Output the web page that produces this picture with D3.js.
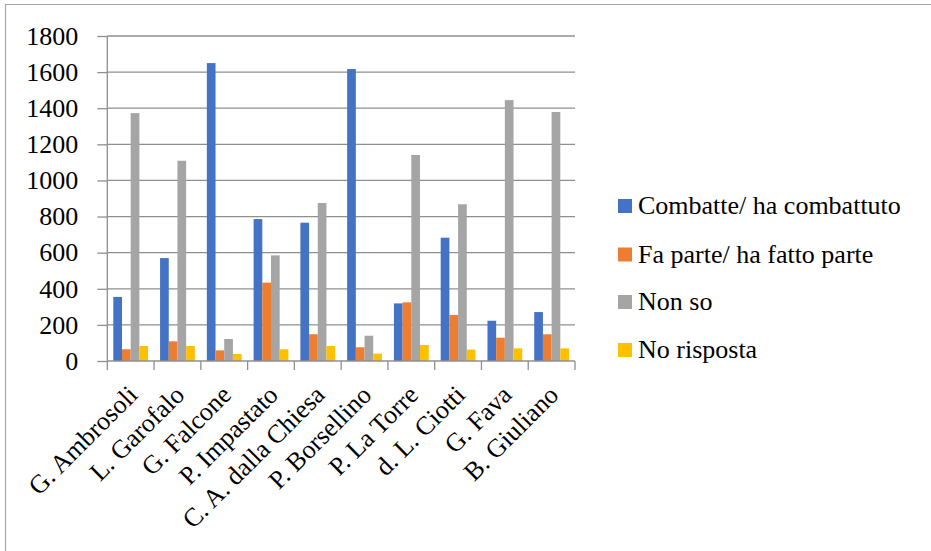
<!DOCTYPE html>
<html>
<head>
<meta charset="utf-8">
<script src="https://cdn.jsdelivr.net/npm/d3@7"></script>
<style>
  html, body { margin: 0; padding: 0; background: #fff; }
  svg { display: block; }
  svg text { font-family: "Liberation Serif", "DejaVu Serif", serif; fill: #000; }
</style>
</head>
<body>
<svg id="chart" width="931" height="551" font-family="Liberation Serif, serif"></svg>
<script>
// Categories (people) and the four answer series
const categories = ["G. Ambrosoli", "L. Garofalo", "G. Falcone", "P. Impastato", "C. A. dalla Chiesa",
  "P. Borsellino", "P. La Torre", "d. L. Ciotti", "G. Fava", "B. Giuliano"];
const seriesNames = ["Combatte/ ha combattuto", "Fa parte/ ha fatto parte", "Non so", "No risposta"];
const seriesColors = ["#4472C4", "#ED7D31", "#A5A5A5", "#FFC000"];

const combatte   = [355, 570, 1650, 786, 766, 1617, 319, 683, 223, 271];
const faParte    = [65, 109, 59, 434, 148, 76, 325, 255, 129, 148];
const nonSo      = [1373, 1109, 122, 585, 875, 140, 1141, 868, 1445, 1379];
const noRisposta = [83, 83, 39, 65, 83, 41, 89, 63, 70, 70];

const yTicks = [0, 200, 400, 600, 800, 1000, 1200, 1400, 1600, 1800];

const seriesValues = [combatte, faParte, nonSo, noRisposta];

const FONT = '"Liberation Serif", "DejaVu Serif", serif';
const FONT_SIZE = "26px";

const svg = d3.select("#chart");
const plot = { left: 107.3, right: 575, top: 36, bottom: 361 };
const gridColor = "#8f8f8f";

// outer frame (left and top edges)
svg.append("path")
  .attr("d", "M5.5,551 V4.5 H931")
  .attr("fill", "none")
  .attr("stroke", "#a6a6a6")
  .attr("stroke-width", 1.2);

const x = d3.scaleBand().domain(categories).range([plot.left, plot.right]).padding(0);
const inner = d3.scaleBand().domain(seriesNames)
  .range([6, x.bandwidth() - 6]).padding(0);
const y = d3.scaleLinear().domain([0, 1800]).range([plot.bottom, plot.top]);

// horizontal gridlines
svg.append("g").selectAll("line")
  .data(yTicks.filter(d => d > 0))
  .join("line")
  .attr("x1", plot.left).attr("x2", plot.right)
  .attr("y1", d => y(d)).attr("y2", d => y(d))
  .attr("stroke", gridColor).attr("stroke-width", 1.3);

// y axis with outward ticks
const yAxis = d3.axisLeft(y).tickValues(yTicks).tickSize(10).tickPadding(19).tickFormat(d3.format("d"));
const gy = svg.append("g").attr("transform", `translate(${plot.left},0)`).call(yAxis)
  .attr("font-family", FONT).attr("font-size", FONT_SIZE);
gy.select(".domain").remove();
gy.selectAll(".tick line").attr("stroke", gridColor).attr("stroke-width", 1.3);
gy.selectAll(".tick text").attr("fill", "#000");
svg.append("line")
  .attr("x1", plot.left).attr("x2", plot.left)
  .attr("y1", plot.top).attr("y2", plot.bottom)
  .attr("stroke", gridColor).attr("stroke-width", 1.3);

// bars
const groups = svg.append("g").selectAll("g")
  .data(categories)
  .join("g")
  .attr("transform", d => `translate(${x(d)},0)`);
groups.selectAll("rect")
  .data((c, i) => seriesNames.map((s, k) => ({ s, k, v: seriesValues[k][i] })))
  .join("rect")
  .attr("x", d => inner(d.s))
  .attr("width", inner.bandwidth())
  .attr("y", d => y(d.v))
  .attr("height", d => y(0) - y(d.v))
  .attr("fill", d => seriesColors[d.k]);

// x axis baseline and boundary ticks
svg.append("line")
  .attr("x1", plot.left).attr("x2", plot.right)
  .attr("y1", plot.bottom).attr("y2", plot.bottom)
  .attr("stroke", gridColor).attr("stroke-width", 1.3);
const bounds = categories.map(c => x(c)).concat([plot.right]);
svg.append("g").selectAll("line")
  .data(bounds)
  .join("line")
  .attr("x1", d => d).attr("x2", d => d)
  .attr("y1", plot.bottom).attr("y2", plot.bottom + 9)
  .attr("stroke", gridColor).attr("stroke-width", 1.3);

// rotated category labels
svg.append("g")
  .attr("font-family", FONT).attr("font-size", FONT_SIZE)
  .selectAll("text")
  .data(categories)
  .join("text")
  .attr("transform", d => `translate(${x(d) + x.bandwidth() / 2 + 2},${plot.bottom + 29}) rotate(-45)`)
  .attr("text-anchor", "end")
  .attr("dy", "0.35em")
  .text(d => d);

// legend
const legend = svg.append("g").attr("transform", "translate(618,0)")
  .attr("font-family", FONT).attr("font-size", FONT_SIZE);
const legendY = [214, 262.5, 310, 358];
seriesNames.forEach((s, k) => {
  legend.append("rect")
    .attr("x", 0).attr("y", legendY[k] - 15)
    .attr("width", 14).attr("height", 14)
    .attr("fill", seriesColors[k]);
  legend.append("text")
    .attr("x", 20).attr("y", legendY[k])
    .text(s);
});
</script>
</body>
</html>
